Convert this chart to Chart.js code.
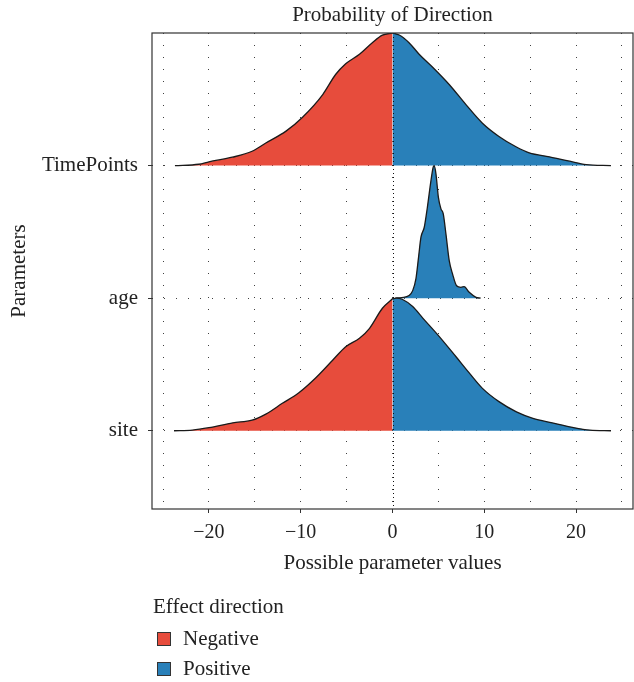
<!DOCTYPE html>
<html>
<head>
<meta charset="utf-8">
<script src="https://cdn.jsdelivr.net/npm/chart.js@4.4.1/dist/chart.umd.min.js"></script>
<style>
html, body { margin: 0; padding: 0; background: #fff; }
#wrap { width: 634px; height: 682px; }
</style>
</head>
<body>
<div id="wrap"><canvas id="pdChart" width="634" height="682"></canvas></div>
<script>
// Ridgeline (probability of direction) chart

const paramLabels = ['site', 'age', 'TimePoints'];   // y = 1, 2, 3
const legendLabels = ['Negative', 'Positive'];
const fillColors = ['#E74C3C', '#2980B9'];

// TimePoints ridge (baseline 3), density scaled so the max is 1
const tpX = [-23.7, -21.1, -20, -17.45, -15.3, -13.8, -11.6, -9.8, -7.6, -6.2, -5.1, -3.6, -2.2, -1.1, 0,
  0.73, 1.8, 2.9, 4.4, 6.2, 8.0, 9.8, 11.6, 13.5, 14.9, 17.1, 19.3, 21.1, 23.8];
const tpD = [0, 0.01, 0.028, 0.063, 0.108, 0.17, 0.26, 0.365, 0.536, 0.687, 0.768, 0.84, 0.927, 0.984, 1.0,
  0.985, 0.927, 0.84, 0.74, 0.61, 0.46, 0.32, 0.22, 0.14, 0.096, 0.066, 0.033, 0.008, 0];

// age ridge (baseline 2)
const ageX = [0.3, 1.0, 1.8, 2.2, 2.55, 2.84, 3.1, 3.46, 3.8, 4.19, 4.44, 4.55, 4.73, 5.0, 5.28, 5.53,
  5.82, 6.18, 6.54, 6.98, 7.46, 7.8, 8.36, 9.1, 9.6];
const ageD = [0, 0.005, 0.02, 0.057, 0.145, 0.31, 0.46, 0.535, 0.686, 0.887, 0.99, 1.0, 0.94, 0.76, 0.674, 0.636,
  0.485, 0.283, 0.183, 0.094, 0.082, 0.087, 0.044, 0.006, 0];

// site ridge (baseline 1)
const siteX = [-23.8, -21.8, -20, -17.4, -15.3, -13.8, -12.0, -10.2, -8.35, -6.5, -5.1, -3.6, -2.5, -1.1, 0,
  0.4, 1.1, 2.2, 3.3, 5.1, 6.9, 8.4, 9.8, 11.6, 13.5, 15.3, 17.4, 19.6, 21.5, 23.8];
const siteD = [0, 0.005, 0.023, 0.06, 0.08, 0.126, 0.207, 0.287, 0.40, 0.534, 0.634, 0.698, 0.773, 0.924, 0.995,
  1.0, 0.99, 0.937, 0.85, 0.71, 0.56, 0.433, 0.32, 0.22, 0.143, 0.094, 0.06, 0.026, 0.005, 0];

const FONT = "'Liberation Serif', 'DejaVu Serif', serif";
const TEXT = '#222';

// split a ridge into the negative part and the positive part
function ridgeDatasets(xs, ds, base, order) {
  const out = [];
  const neg = [], pos = [];
  xs.forEach((x, i) => {
    if (x <= 0) neg.push({ x: x, y: base + ds[i] });
    if (x >= 0) pos.push({ x: x, y: base + ds[i] });
  });
  [neg, pos].forEach((pts, k) => {
    if (pts.length < 2) return;
    out.push({
      data: pts,
      borderColor: '#1a1a1a',
      borderWidth: 1.3,
      backgroundColor: fillColors[k],
      fill: { value: base },
      pointRadius: 0,
      cubicInterpolationMode: 'monotone',
      order: order
    });
  });
  return out;
}

const datasets = [].concat(
  ridgeDatasets(tpX, tpD, 3, 3),
  ridgeDatasets(ageX, ageD, 2, 2),
  ridgeDatasets(siteX, siteD, 1, 1)
);

const decorPlugin = {
  id: 'decor',
  afterDatasetsDraw(chart) {
    const { ctx, chartArea, scales } = chart;
    const x0 = Math.round(scales.x.getPixelForValue(0)) + 0.5;
    ctx.save();
    ctx.strokeStyle = '#111';
    ctx.lineWidth = 1;
    ctx.setLineDash([1, 3]);
    ctx.beginPath();
    ctx.moveTo(x0, chartArea.top);
    ctx.lineTo(x0, chartArea.bottom);
    ctx.stroke();
    ctx.restore();
  },
  afterDraw(chart) {
    const { ctx, chartArea } = chart;
    const cx = (chartArea.left + chartArea.right) / 2;
    ctx.save();
    // panel border
    ctx.strokeStyle = '#333';
    ctx.lineWidth = 1.2;
    ctx.strokeRect(chartArea.left, chartArea.top, chartArea.right - chartArea.left, chartArea.bottom - chartArea.top);

    ctx.fillStyle = TEXT;
    ctx.textBaseline = 'middle';
    ctx.font = '21px ' + FONT;
    ctx.textAlign = 'center';
    ctx.fillText('Probability of Direction', cx, 15);
    ctx.fillText('Possible parameter values', cx, 563);

    ctx.save();
    ctx.translate(19, (chartArea.top + chartArea.bottom) / 2);
    ctx.rotate(-Math.PI / 2);
    ctx.fillText('Parameters', 0, 0);
    ctx.restore();

    // legend
    ctx.textAlign = 'left';
    ctx.fillText('Effect direction', 153, 607);
    legendLabels.forEach((lab, i) => {
      const y = 632 + i * 30;
      ctx.fillStyle = fillColors[i];
      ctx.fillRect(157, y, 14, 14);
      ctx.strokeStyle = '#333';
      ctx.lineWidth = 1;
      ctx.strokeRect(157.5, y + 0.5, 13, 13);
      ctx.fillStyle = TEXT;
      ctx.fillText(lab, 183, y + 7);
    });
    ctx.restore();
  }
};

const gridDots = {
  color: 'rgba(0,0,0,0.75)',
  lineWidth: 1,
  tickLength: 4,
  tickWidth: 1
};

new Chart(document.getElementById('pdChart').getContext('2d'), {
  type: 'line',
  data: { datasets: datasets },
  options: {
    responsive: false,
    animation: false,
    events: [],
    layout: { padding: { left: 0, right: 1, top: 33, bottom: 113 } },
    plugins: {
      legend: { display: false },
      title: { display: false },
      tooltip: { enabled: false },
      filler: { propagate: false }
    },
    scales: {
      x: {
        type: 'linear',
        min: -26.2,
        max: 26.2,
        afterFit: s => { s.height = 60; },
        border: { display: false, dash: [1, 11] },
        grid: Object.assign({}, gridDots, {
          tickColor: c => (c.tick && c.tick.value % 10 === 0 ? '#333' : 'rgba(0,0,0,0)')
        }),
        ticks: {
          stepSize: 5,
          includeBounds: false,
          autoSkip: false,
          maxRotation: 0,
          padding: 8,
          color: TEXT,
          font: { family: FONT, size: 20 },
          callback: v => (v % 10 === 0 ? (v < 0 ? '\u2212' + Math.abs(v) : String(v)) : '')
        }
      },
      y: {
        type: 'linear',
        min: 0.41,
        max: 4.0,
        afterFit: s => { s.width = 152; },
        afterBuildTicks: s => { s.ticks = paramLabels.map((_, i) => ({ value: i + 1 })); },
        border: { display: false, dash: [1, 11] },
        grid: Object.assign({}, gridDots, { tickColor: '#333' }),
        ticks: {
          padding: 10,
          color: TEXT,
          font: { family: FONT, size: 21 },
          callback: v => paramLabels[v - 1] || ''
        }
      }
    }
  },
  plugins: [decorPlugin]
});
</script>
</body>
</html>
